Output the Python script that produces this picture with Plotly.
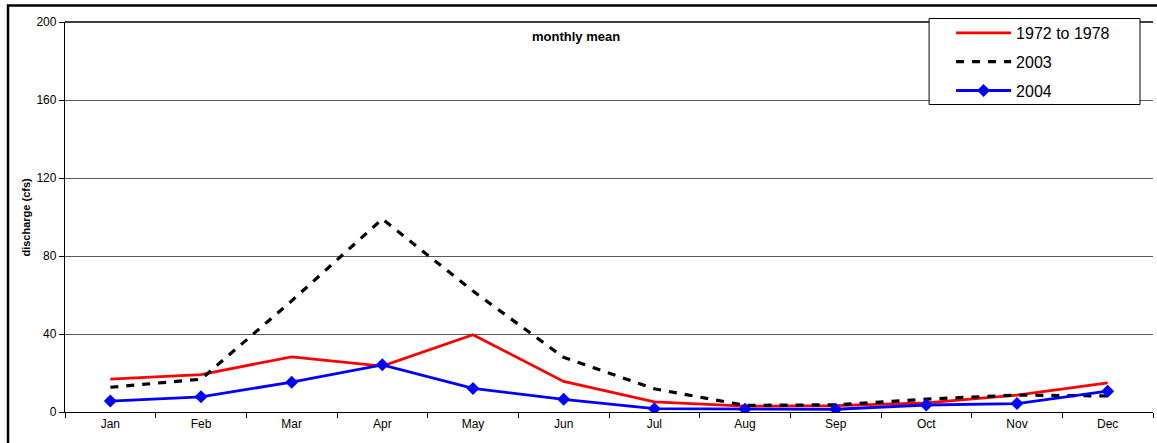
import plotly.graph_objects as go

months = ["Jan", "Feb", "Mar", "Apr", "May", "Jun", "Jul", "Aug", "Sep", "Oct", "Nov", "Dec"]
mean_1972_1978 = [16.9, 19.2, 28.3, 23.5, 39.6, 15.7, 5.2, 3.0, 3.3, 4.7, 8.6, 14.9]
mean_2003 = [12.7, 16.8, 57.0, 99.0, 62.0, 28.0, 11.9, 3.4, 3.7, 6.6, 8.7, 8.2]
mean_2004 = [5.6, 7.8, 15.3, 24.2, 12.1, 6.5, 1.7, 1.4, 1.4, 3.6, 4.3, 10.7]
y_ticks = [0, 40, 80, 120, 160, 200]

W, H = 1157, 443
L, R, T, B = 64.5, 1153, 22, 412
pw, ph = R - L, B - T

def px(x):
    return (x - L) / pw

def py(y):
    return (B - y) / ph

FONT = "Arial, Liberation Sans, sans-serif"

fig = go.Figure()
fig.add_trace(go.Scatter(x=months, y=mean_1972_1978, name="1972 to 1978", mode="lines",
                         line=dict(color="#ff0000", width=2.8), legendgroup="a"))
fig.add_trace(go.Scatter(x=months, y=mean_2003, name="2003", mode="lines",
                         line=dict(color="#000000", width=3.2, dash="8px,8px"), legendgroup="b"))
fig.add_trace(go.Scatter(x=months, y=mean_2004, name="2004", mode="lines+markers",
                         line=dict(color="#0000ff", width=2.8),
                         marker=dict(symbol="diamond", size=10, color="#0000ff"), legendgroup="c"))

fig.update_layout(
    width=W, height=H,
    margin=dict(l=L, r=W - R, t=T, b=H - B, pad=0),
    paper_bgcolor="white", plot_bgcolor="white",
    font=dict(family=FONT, color="#000000"),
    showlegend=True,
    legend=dict(x=px(951), y=py(16), xanchor="left", yanchor="top",
                bgcolor="rgba(0,0,0,0)", borderwidth=0,
                font=dict(size=16, family=FONT), itemwidth=55,
                tracegroupgap=5),
    xaxis=dict(type="category", categoryorder="array", categoryarray=months,
               range=[-0.5, 11.5], showgrid=False, showline=True, linecolor="#000000",
               linewidth=1.3, ticks="outside", tickson="boundaries", ticklen=5,
               tickcolor="#000000", tickfont=dict(size=12, family=FONT), zeroline=False),
    yaxis=dict(range=[0, 200], tickvals=y_ticks, showgrid=True, gridcolor="#5a5a5a",
               gridwidth=1, showline=True, linecolor="#000000", linewidth=1.3,
               ticks="outside", ticklen=5, tickcolor="#000000",
               tickfont=dict(size=12, family=FONT), zeroline=False),
    shapes=[
        dict(type="line", xref="paper", yref="paper", x0=0, x1=1, y0=1, y1=1,
             line=dict(color="#000000", width=1.5)),
        dict(type="rect", xref="paper", yref="paper", x0=px(7.5), x1=px(1170),
             y0=py(5.5), y1=py(460), line=dict(color="#000000", width=2.5),
             fillcolor="rgba(0,0,0,0)", layer="above"),
        dict(type="rect", xref="paper", yref="paper", x0=px(929), x1=px(1140),
             y0=py(18.5), y1=py(104.5), line=dict(color="#000000", width=1),
             fillcolor="white", layer="above"),
    ],
    annotations=[
        dict(text="<b>monthly mean</b>", x=px(576), y=py(37), xref="paper", yref="paper",
             showarrow=False, font=dict(size=13, family=FONT), xanchor="center", yanchor="middle"),
        dict(text="<b>discharge (cfs)</b>", x=px(25), y=py(217), xref="paper", yref="paper",
             showarrow=False, textangle=-90, font=dict(size=11, family=FONT),
             xanchor="center", yanchor="middle"),
    ],
)

fig.write_html("out.html", config={"displayModeBar": False},
               post_script="document.body.style.margin='0px';document.body.style.overflow='hidden';")
